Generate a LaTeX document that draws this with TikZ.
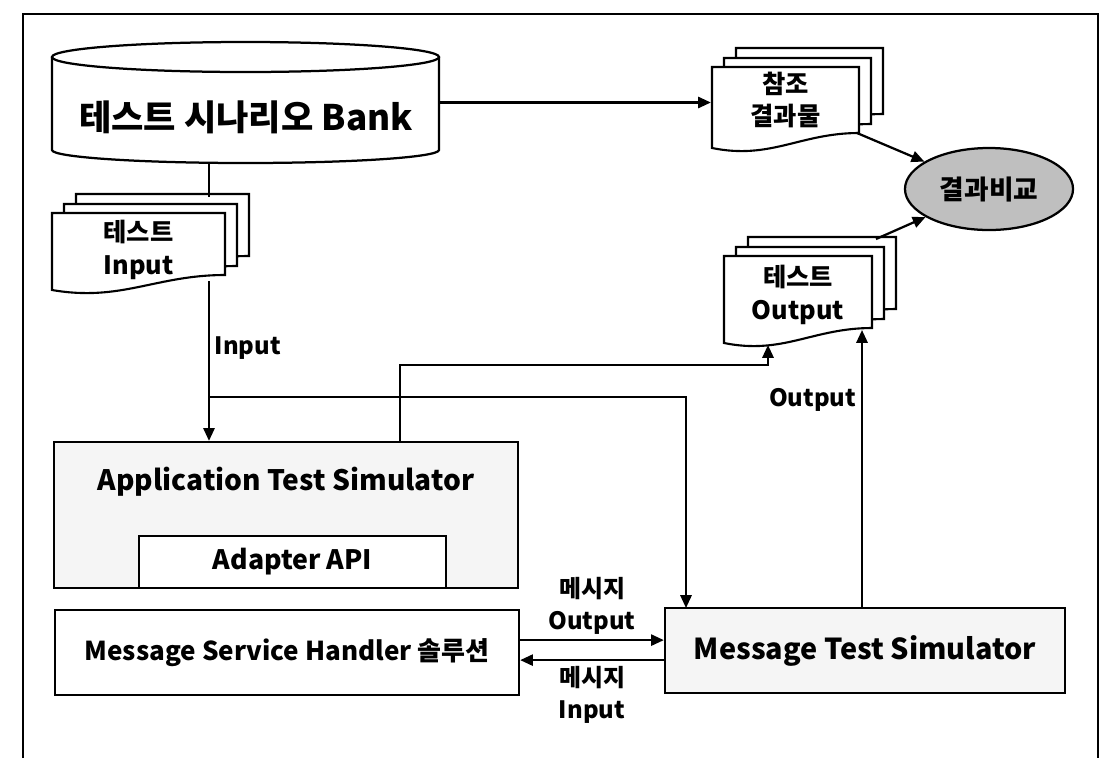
\documentclass[tikz,border=0pt]{standalone}
\usepackage{fontspec}
\setmainfont{Noto Sans CJK KR}
\usetikzlibrary{shapes.geometric,arrows.meta,positioning}

% one page of a document stack: x, y (top left), width, height at the left edge
\newcommand{\docpage}[4]{%
  \draw[page] (#1,#2) -- ++(#3,0) -- ++(0,#4-15)
    .. controls +(-0.4*#3,0) and +(0.4*#3,12) .. (#1,#2+#4) -- cycle;}
\newcommand{\docstack}[4]{%
  \docpage{#1+24}{#2-19}{#3}{#4}%
  \docpage{#1+12}{#2-9}{#3}{#4}%
  \docpage{#1}{#2}{#3}{#4}}

\begin{document}
\begin{tikzpicture}[
  x=0.025cm, y=-0.025cm,
  line width=1.6pt,
  page/.style={draw,fill=white,line width=1.5pt},
  bank/.style={rectangle,minimum width=9.675cm,minimum height=3.025cm,inner sep=0pt},
  box/.style={draw,rectangle,inner sep=0pt,font=\bfseries\fontsize{19}{23}\selectfont},
  doctext/.style={align=center,font=\bfseries\fontsize{18}{23}\selectfont},
  compare/.style={draw,ellipse,fill=black!25,minimum width=4.2cm,minimum height=2.05cm,inner sep=0pt,font=\bfseries\fontsize{19}{23}\selectfont},
  lbl/.style={align=center,font=\bfseries\fontsize{17}{23}\selectfont},
  arrow/.style={-{Triangle[length=0.32cm,width=0.28cm]}},
]
\useasboundingbox (0,0) rectangle (1108,758);
% outer frame
\draw (23,758) -- (23,14) -- (1098,14) -- (1098,758);

% scenario bank (drawn as a drum)
\node[bank] (bank) at (245.5,102.5) {};
\draw (52,57) -- (52,150) arc[start angle=180,end angle=0,x radius=193.5,y radius=13] -- (439,57);
\draw (245.5,57) ellipse[x radius=193.5,y radius=15];
\node[font=\bfseries\fontsize{25}{29}\selectfont] (banktext) at (246,117) {테스트 시나리오 Bank};

% document stacks
\docstack{712}{67}{147}{81}
\docstack{52}{213}{173}{77}
\docstack{724}{256}{148}{87}
\node[doctext,minimum width=3.675cm] (ref)  at (785.5,100) {참조\\결과물};
\node[doctext,minimum width=4.325cm] (inp)  at (138.5,250) {테스트\\Input};
\node[doctext,minimum width=3.7cm]   (outd) at (798,295)   {테스트\\Output};

\node[compare] (cmp) at (989,189) {결과비교};

% simulators
\node[box,fill=black!4,minimum width=11.6cm,minimum height=3.65cm] (ats) at (286,515) {};
\node[font=\bfseries\fontsize{20}{24}\selectfont] (atstext) at (286,482) {Application Test Simulator};
\node[box,fill=white,minimum width=7.675cm,minimum height=1.3cm] (api) at (292.5,562) {Adapter API};
\node[box,minimum width=11.6cm,minimum height=2.125cm,font=\bfseries\fontsize{18.5}{22}\selectfont] (msh) at (287,652.5) {Message Service Handler 솔루션};
\node[box,fill=black!4,minimum width=10cm,minimum height=2.125cm,font=\bfseries\fontsize{20.5}{24}\selectfont] (mts) at (865,650.5) {Message Test Simulator};

% connector ends
\coordinate (inptop) at (209,197);
\coordinate (inpbot) at (209,281);
\coordinate (split)  at (209,397);
\coordinate (mtsin)  at (686,608);
\coordinate (atsout) at (400,442);
\coordinate (outturn) at (768,365);
\coordinate (outin)  at (768,345);
\coordinate (mtsout) at (862,608);
\coordinate (outin2) at (862,330);
\coordinate (refout) at (857,133);
\coordinate (outout) at (876,239);

\draw (inptop |- bank.south) -- (inptop);
\draw[arrow] (inpbot) -- node[lbl,right,pos=0.42]{Input} (inpbot |- ats.north);
\draw[arrow] (split) -| (mtsin);
\draw[arrow] (atsout) |- (outturn) -- (outin);
\draw[arrow] (mtsout) -- node[lbl,left,pos=0.75]{Output} (outin2);
\draw[arrow] (bank.east) -- (bank.east -| ref.west);
\draw[arrow] (refout) -- (cmp);
\draw[arrow] (outout) -- (cmp);
\draw[arrow] ([yshift=0.31cm]msh.east) -- node[lbl,above]{메시지\\Output} ([yshift=0.31cm]msh.east -| mts.west);
\draw[arrow] ([yshift=-0.24cm]mts.west) -- node[lbl,below]{메시지\\Input} ([yshift=-0.24cm]mts.west -| msh.east);
\end{tikzpicture}
\end{document}
